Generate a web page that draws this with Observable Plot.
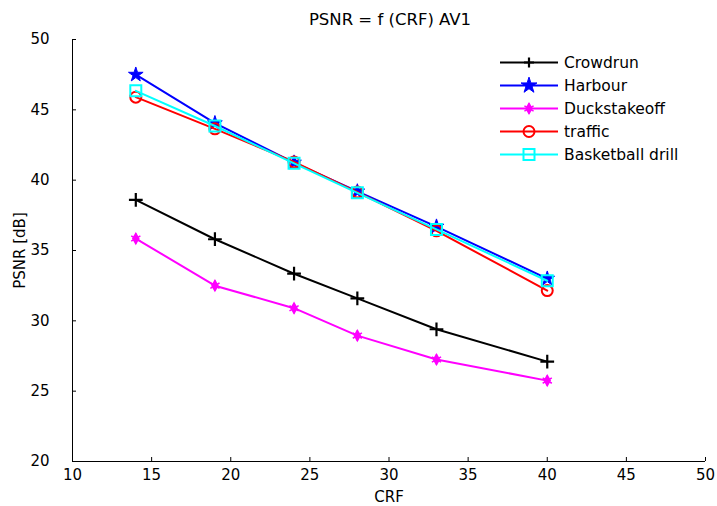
<!DOCTYPE html>
<html>
<head>
<meta charset="utf-8">
<script src="https://cdn.jsdelivr.net/npm/d3@7"></script>
<script src="https://cdn.jsdelivr.net/npm/@observablehq/plot@0.6"></script>
<style>
  html, body { margin: 0; padding: 0; background: white; }
  #chart { width: 717px; height: 506px; }
</style>
</head>
<body>
<div id="chart"></div>
<script>
const crf = [14, 19, 24, 28, 33, 40];
const crowdrun   = [38.6, 35.8, 33.35, 31.6, 29.4, 27.1];
const harbour    = [47.5, 44.05, 41.25, 39.2, 36.7, 33.0];
const duck       = [35.85, 32.5, 30.9, 28.95, 27.25, 25.75];
const traffic    = [45.9, 43.65, 41.3, 39.15, 36.4, 32.15];
const basketball = [46.35, 43.85, 41.2, 39.1, 36.5, 32.85];

const seriesNames = ["Crowdrun", "Harbour", "Duckstakeoff", "traffic", "Basketball drill"];
const seriesValues = [crowdrun, harbour, duck, traffic, basketball];
const seriesColors = ["#000000", "#0000ff", "#ff00ff", "#ff0000", "#00ffff"];
const seriesSymbols = ["plus", "star", "asterisk", "circle", "square"];

const xTicks = [10, 15, 20, 25, 30, 35, 40, 45, 50];
const yTicks = [20, 25, 30, 35, 40, 45, 50];
const titleText = "PSNR = f (CRF) AV1";
const xLabel = "CRF";
const yLabel = "PSNR [dB]";

const rows = [];
seriesNames.forEach((name, i) => {
  crf.forEach((x, j) => rows.push({series: name, x, y: seriesValues[i][j]}));
});

const font = "'DejaVu Sans', Verdana, sans-serif";

const marks = [
  Plot.axisX({ticks: xTicks, tickSize: -4, tickPadding: 12, label: xLabel, labelAnchor: "center", labelArrow: "none", labelOffset: 40, fontSize: 15}),
  Plot.axisY({ticks: yTicks, tickSize: -4, tickPadding: 27, label: yLabel, labelAnchor: "center", labelArrow: "none", labelOffset: 58, fontSize: 15}),
  Plot.ruleX([xTicks[0]], {stroke: "black", strokeWidth: 1}),
  Plot.ruleY([yTicks[0]], {stroke: "black", strokeWidth: 1})
];

seriesNames.forEach((name, i) => {
  const data = rows.filter(d => d.series === name);
  marks.push(Plot.line(data, {x: "x", y: "y", stroke: seriesColors[i], strokeWidth: 2}));
  const sym = seriesSymbols[i];
  if (sym === "star") {
    marks.push(Plot.dot(data, {x: "x", y: "y", symbol: "star", r: 4.6, fill: seriesColors[i], stroke: seriesColors[i], strokeWidth: 1}));
  } else if (sym === "circle") {
    marks.push(Plot.dot(data, {x: "x", y: "y", symbol: "circle", r: 5.5, fill: "none", stroke: seriesColors[i], strokeWidth: 2}));
  } else if (sym === "square") {
    marks.push(Plot.dot(data, {x: "x", y: "y", symbol: "square", r: 6.2, fill: "none", stroke: seriesColors[i], strokeWidth: 2}));
  } else if (sym === "asterisk") {
    marks.push(Plot.dot(data, {x: "x", y: "y", symbol: "diamond", r: 4, fill: seriesColors[i], stroke: "none"}));
    marks.push(Plot.dot(data, {x: "x", y: "y", symbol: "asterisk", r: 5, stroke: seriesColors[i], strokeWidth: 1.5}));
  } else {
    marks.push(Plot.dot(data, {x: "x", y: "y", symbol: "plus", r: 4.5, stroke: seriesColors[i], strokeWidth: 2.2}));
  }
});

const chart = Plot.plot({
  width: 717,
  height: 506,
  marginLeft: 72,
  marginRight: 12,
  marginTop: 39,
  marginBottom: 45,
  style: {fontFamily: font, fontSize: "15px", background: "white", color: "black"},
  x: {domain: [10, 50]},
  y: {domain: [20, 50]},
  marks
});

const svg = d3.select(chart);
// title
svg.append("text")
  .attr("x", 390).attr("y", 25)
  .attr("text-anchor", "middle")
  .attr("font-family", font).attr("font-size", 16.5)
  .attr("fill", "black")
  .text(titleText);

// legend
const lg = svg.append("g").attr("font-family", font).attr("font-size", 15.5).attr("text-anchor", "start");
seriesNames.forEach((name, i) => {
  const yy = 62.5 + i * 23;
  const g = lg.append("g").attr("transform", `translate(0,${yy})`);
  g.append("line").attr("x1", 500).attr("x2", 558).attr("y1", 0).attr("y2", 0)
    .attr("stroke", seriesColors[i]).attr("stroke-width", 2);
  const sym = seriesSymbols[i];
  const cx = 529;
  if (sym === "star") {
    g.append("path").attr("d", d3.symbol(d3.symbolStar, Math.PI * 5 * 5)()).attr("transform", `translate(${cx},0)`)
      .attr("fill", seriesColors[i]).attr("stroke", seriesColors[i]);
  } else if (sym === "circle") {
    g.append("circle").attr("cx", cx).attr("cy", 0).attr("r", 5.5).attr("fill", "none").attr("stroke", seriesColors[i]).attr("stroke-width", 2);
  } else if (sym === "square") {
    g.append("rect").attr("x", cx - 5.5).attr("y", -5.5).attr("width", 11).attr("height", 11).attr("fill", "none").attr("stroke", seriesColors[i]).attr("stroke-width", 2);
  } else if (sym === "asterisk") {
    g.append("path").attr("d", d3.symbol(d3.symbolDiamond, Math.PI * 4 * 4)()).attr("transform", `translate(${cx},0)`).attr("fill", seriesColors[i]);
    g.append("path").attr("d", d3.symbol(d3.symbolAsterisk, Math.PI * 5 * 5)()).attr("transform", `translate(${cx},0)`).attr("fill", "none").attr("stroke", seriesColors[i]).attr("stroke-width", 1.5);
  } else {
    g.append("path").attr("d", "M-5,0H5M0,-5V5").attr("transform", `translate(${cx},0)`).attr("fill", "none").attr("stroke", seriesColors[i]).attr("stroke-width", 2.2);
  }
  g.append("text").attr("x", 564).attr("y", 0).attr("dy", "0.35em").attr("fill", "black").text(name);
});

document.getElementById("chart").appendChild(chart);
</script>
</body>
</html>
